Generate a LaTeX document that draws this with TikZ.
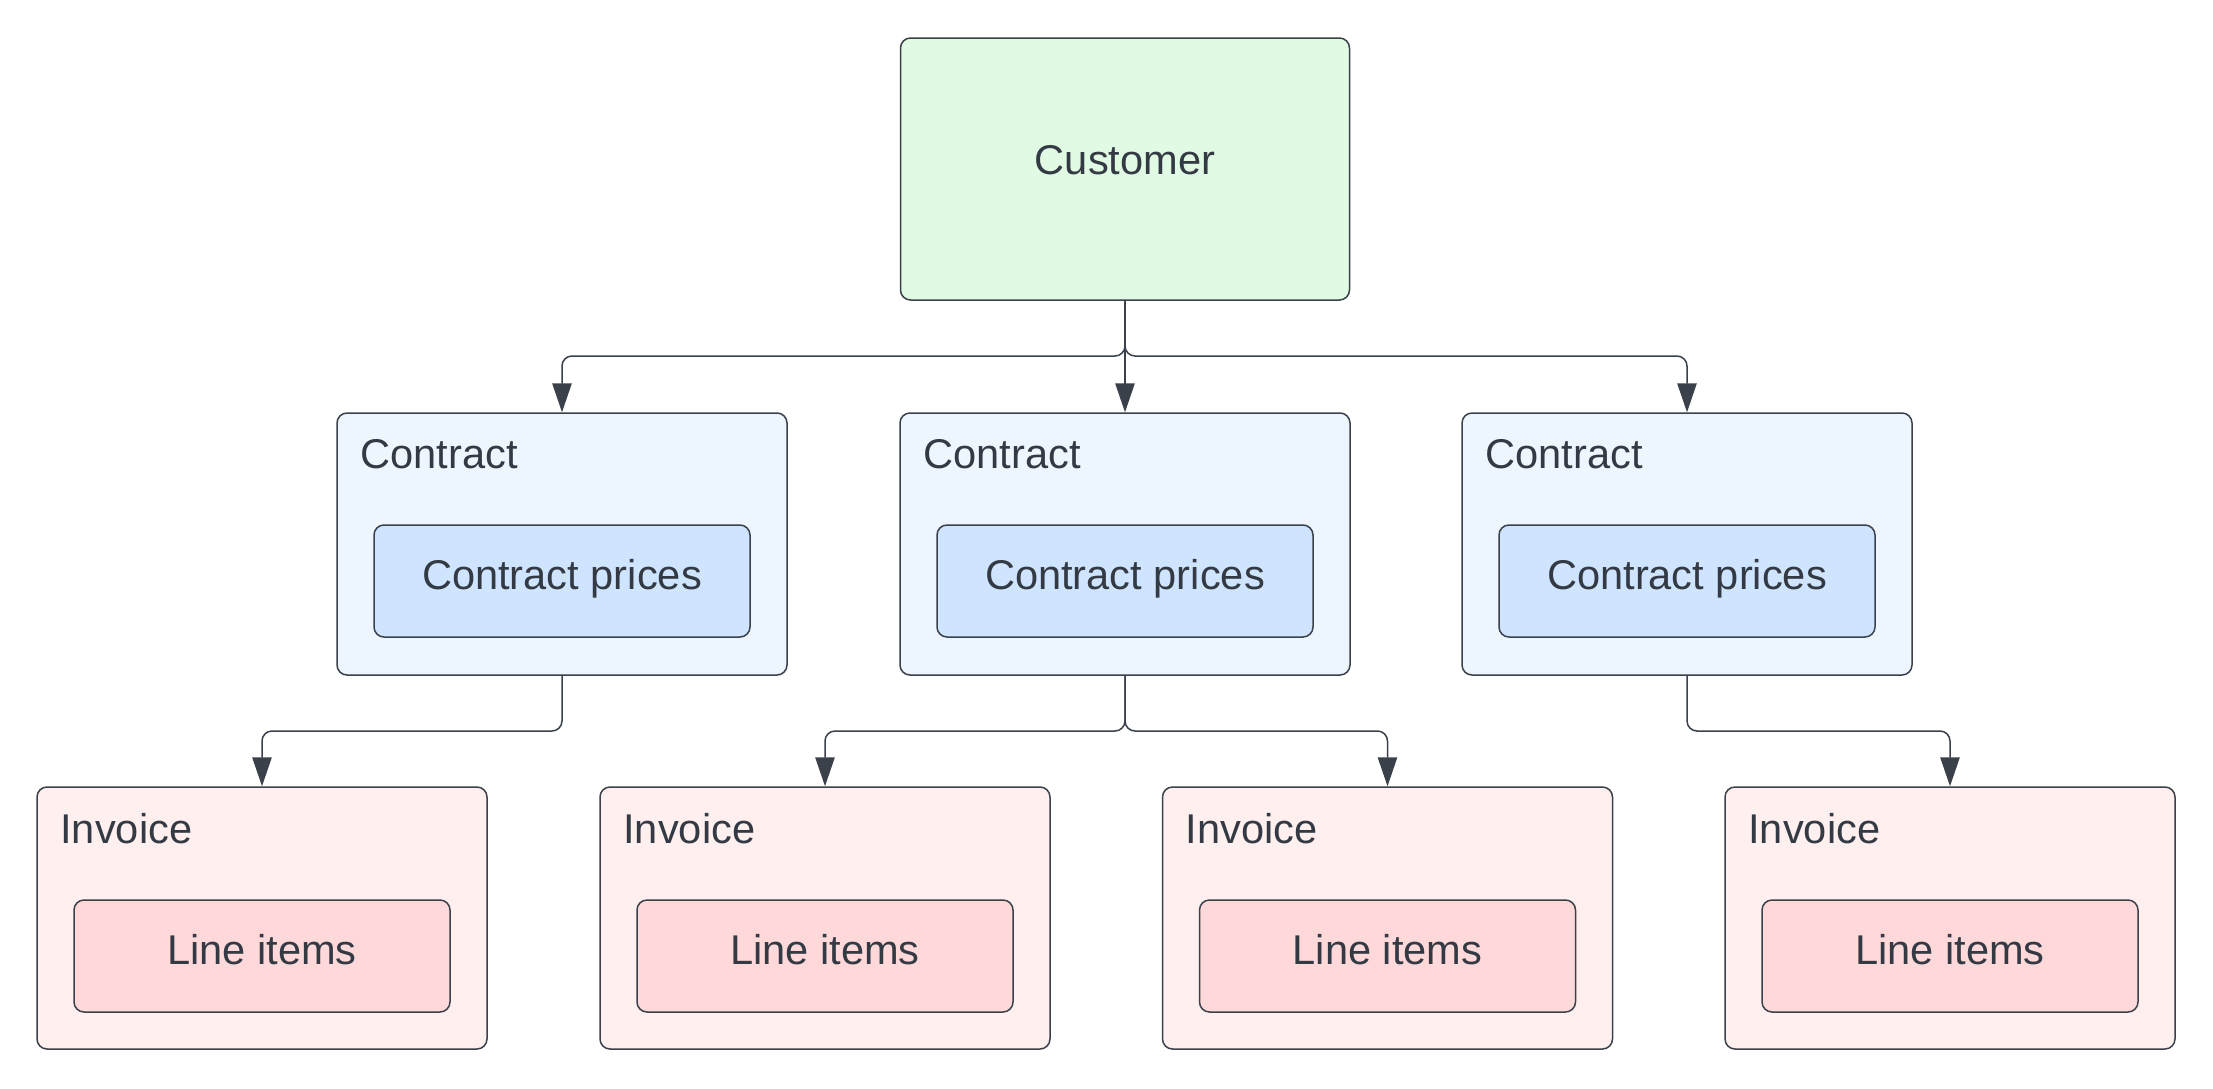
\documentclass[tikz,border=0pt]{standalone}
\usepackage{fontspec}
\setmainfont{Liberation Sans}
\usetikzlibrary{arrows.meta}
\definecolor{linec}{HTML}{3A414A}
\definecolor{textc}{HTML}{333A44}
\definecolor{custf}{HTML}{E1FAE3}
\definecolor{contf}{HTML}{EDF5FF}
\definecolor{pricef}{HTML}{CFE4FF}
\definecolor{invf}{HTML}{FFEFEF}
\definecolor{itemf}{HTML}{FFD9D9}
\begin{document}
\begin{tikzpicture}[x=0.5pt,y=-0.5pt,
  txt/.style={text=textc,font=\fontsize{20.8}{25}\selectfont},
  box/.style={draw=linec,line width=0.75pt,rounded corners=5pt,inner sep=0pt},
  outerbox/.style={box,minimum width=225pt,minimum height=131pt},
  innerbox/.style={box,txt,minimum width=188pt,minimum height=56pt,text height=14pt,text depth=6pt},
  custbox/.style={box,minimum width=224.5pt,minimum height=131pt,fill=custf},
  title/.style={txt,anchor=base west,inner sep=0pt},
  conn/.style={draw=linec,line width=0.75pt,rounded corners=5pt,-{Triangle[length=14.5pt,width=9.7pt]}}
]
\useasboundingbox (0,0) rectangle (2213,1088);
\fill[white] (0,0) rectangle (2213,1088);

% Customer
\node[custbox] (cust) at (1125,169) {};
\node[txt,inner sep=0pt,anchor=base] (custt) at (1125,174) {Customer};

% Contracts
\foreach \i/\x in {1/562,2/1125,3/1687}{
  \node[outerbox,fill=contf] (k\i) at (\x,544) {};
  \node[title] (k\i t) at (\x-202,468) {Contract};
  \node[innerbox,fill=pricef] (p\i) at (\x,581) {Contract prices};
}

% Invoices
\foreach \i/\x in {1/262,2/825,3/1387.5,4/1950}{
  \node[outerbox,fill=invf] (v\i) at (\x,918) {};
  \node[title] (v\i t) at (\x-202,843) {Invoice};
  \node[innerbox,fill=itemf] (l\i) at (\x,956) {Line items};
}

% Connectors
\coordinate (b0) at (1125,356);
\draw[conn] (cust.south) -- (b0) -| (k1.north);
\draw[conn] (cust.south) -- (b0) -| (k3.north);
\draw[conn] (cust.south) -- (k2.north);

\coordinate (b1) at (562,731);
\coordinate (b2) at (1125,731);
\coordinate (b3) at (1687,731);
\draw[conn] (k1.south) -- (b1) -| (v1.north);
\draw[conn] (k2.south) -- (b2) -| (v2.north);
\draw[conn] (k2.south) -- (b2) -| (v3.north);
\draw[conn] (k3.south) -- (b3) -| (v4.north);
\end{tikzpicture}
\end{document}
